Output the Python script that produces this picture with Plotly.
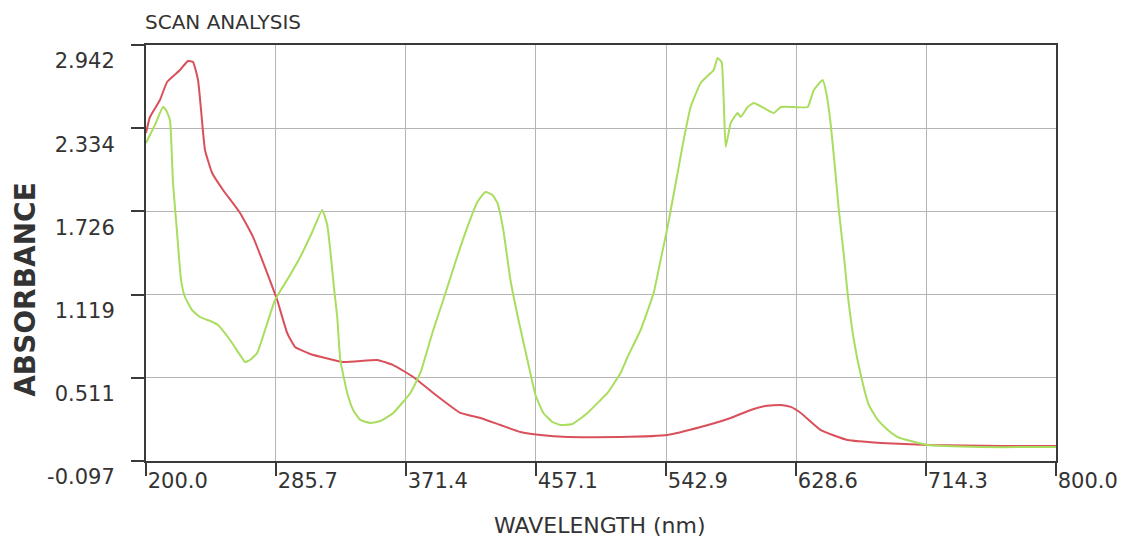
import plotly.graph_objects as go

# ---- data ----
red_wl = [200.0, 202.6, 209.2, 213.9, 222.4, 227.7, 231.0, 234.3, 236.3, 238.9, 243.6, 250.8,
          262.0, 270.6, 279.9, 286.5, 293.1, 298.3, 308.3, 330.0, 352.5, 363.0, 376.2, 389.4,
          407.3, 420.5, 433.7, 446.9, 460.1, 477.9, 512.9, 543.9, 565.7, 585.5, 598.7, 608.6,
          618.5, 625.1, 631.7, 644.9, 662.7, 684.5, 715.5, 763.7, 800.0]
red_abs = [2.299, 2.416, 2.540, 2.672, 2.759, 2.825, 2.818, 2.686, 2.467, 2.175, 2.007, 1.883,
           1.715, 1.539, 1.276, 1.079, 0.838, 0.736, 0.685, 0.626, 0.641, 0.604, 0.517, 0.400,
           0.254, 0.217, 0.166, 0.115, 0.093, 0.078, 0.078, 0.093, 0.151, 0.217, 0.276, 0.305,
           0.312, 0.298, 0.254, 0.129, 0.056, 0.035, 0.020, 0.013, 0.013]

green_wl = [200.0, 205.9, 211.2, 213.2, 215.8, 217.8, 220.5, 223.1, 225.7, 230.4, 235.6, 242.2,
            247.5, 255.4, 262.0, 265.3, 268.6, 273.3, 278.5, 285.1, 295.0, 301.7, 309.6, 316.2,
            319.5, 321.5, 324.1, 326.1, 328.1, 332.7, 336.6, 341.3, 347.9, 354.5, 363.0, 374.3,
            380.9, 389.4, 396.0, 404.0, 411.9, 418.5, 423.8, 428.4, 431.7, 435.6, 440.3, 445.6,
            451.5, 456.8, 462.0, 468.0, 473.3, 481.2, 491.1, 499.7, 504.3, 512.9, 517.5, 526.1,
            534.7, 539.3, 543.9, 547.2, 550.5, 554.5, 559.1, 565.7, 572.3, 574.3, 576.9, 579.5,
            580.9, 582.2, 585.5, 587.5, 590.1, 592.1, 596.7, 600.7, 607.3, 613.9, 618.5, 627.1,
            636.3, 640.3, 646.2, 648.8, 651.5, 654.1, 656.8, 660.1, 662.7, 666.7, 671.3, 676.6,
            682.5, 689.1, 695.7, 704.3, 715.5, 750.5, 800.0]
green_abs = [2.226, 2.358, 2.489, 2.467, 2.394, 1.934, 1.569, 1.225, 1.101, 1.006, 0.955, 0.926,
             0.897, 0.787, 0.677, 0.626, 0.641, 0.692, 0.860, 1.079, 1.262, 1.393, 1.576, 1.737,
             1.627, 1.444, 1.152, 0.955, 0.641, 0.400, 0.276, 0.203, 0.181, 0.195, 0.254, 0.400,
             0.546, 0.860, 1.079, 1.357, 1.612, 1.795, 1.868, 1.846, 1.788, 1.590, 1.225, 0.933,
             0.641, 0.385, 0.254, 0.188, 0.166, 0.173, 0.254, 0.349, 0.400, 0.546, 0.663, 0.860,
             1.130, 1.371, 1.612, 1.810, 2.007, 2.248, 2.489, 2.664, 2.737, 2.759, 2.847, 2.818,
             2.540, 2.197, 2.372, 2.409, 2.445, 2.416, 2.489, 2.518, 2.482, 2.445, 2.489, 2.489,
             2.489, 2.613, 2.686, 2.577, 2.358, 2.065, 1.737, 1.408, 1.116, 0.787, 0.531, 0.312,
             0.203, 0.130, 0.078, 0.049, 0.020, 0.005, 0.005]

x_tick_labels = ["200.0", "285.7", "371.4", "457.1", "542.9", "628.6", "714.3", "800.0"]
y_tick_labels = ["-0.097", "0.511", "1.119", "1.726", "2.334", "2.942"]

title_text = "SCAN ANALYSIS"
x_title = "WAVELENGTH (nm)"
y_title = "ABSORBANCE"

# ---- figure ----
FONT = "DejaVu Sans"
TXT = "#333333"
AX = "#3a3a3a"

fig = go.Figure()
fig.add_trace(go.Scatter(x=red_wl, y=red_abs, mode="lines",
                         line=dict(color="#d9505a", width=2, shape="spline", smoothing=0.4),
                         showlegend=False))
fig.add_trace(go.Scatter(x=green_wl, y=green_abs, mode="lines",
                         line=dict(color="#a9dd5e", width=2, shape="spline", smoothing=0.4),
                         showlegend=False))

x_vals = [float(v) for v in x_tick_labels]
y_vals = [float(v) for v in y_tick_labels]

# the page body has an ~8px margin, so the figure is sized/offset to compensate
fig.update_layout(
    width=1109, height=529,
    margin=dict(l=138, r=61, t=37, b=76),
    paper_bgcolor="white", plot_bgcolor="white",
    font=dict(family=FONT, color=TXT),
    xaxis=dict(range=[x_vals[0], x_vals[-1]], tickvals=x_vals, ticktext=x_tick_labels,
               automargin=False,
               showgrid=True, gridcolor="#b4b4b4", gridwidth=1,
               showline=True, linecolor=AX, linewidth=2, mirror=True,
               ticks="outside", ticklen=13, tickwidth=1.5, tickcolor=AX,
               ticklabelposition="outside right", ticklabeloverflow="allow",
               tickfont=dict(family=FONT, size=21, color=TXT), zeroline=False),
    yaxis=dict(range=[y_vals[0], y_vals[-1]], tickvals=y_vals, ticktext=y_tick_labels,
               automargin=False,
               showgrid=True, gridcolor="#b4b4b4", gridwidth=1,
               showline=True, linecolor=AX, linewidth=2, mirror=True,
               ticks="outside", ticklen=13, tickwidth=1.5, tickcolor=AX,
               ticklabelshift=16, ticklabelstandoff=12, ticklabeloverflow="allow",
               tickfont=dict(family=FONT, size=21, color=TXT), zeroline=False),
    annotations=[
        dict(text=title_text, xref="paper", yref="paper", x=0.0, y=(461 - 22) / 416,
             xanchor="left", yanchor="middle", showarrow=False, xshift=-3,
             font=dict(family=FONT, size=20, color=TXT)),
        dict(text=x_title, xref="paper", yref="paper", x=(600 - 146) / 909, y=(461 - 525) / 416,
             xanchor="center", yanchor="middle", showarrow=False,
             font=dict(family=FONT, size=22, color=TXT)),
        dict(text="<b>" + y_title + "</b>", xref="paper", yref="paper",
             x=(25 - 146) / 909, y=(461 - 289) / 416,
             xanchor="center", yanchor="middle", showarrow=False, textangle=-90,
             font=dict(family=FONT, size=28, color=TXT)),
    ],
)

fig.write_html("out.html")
